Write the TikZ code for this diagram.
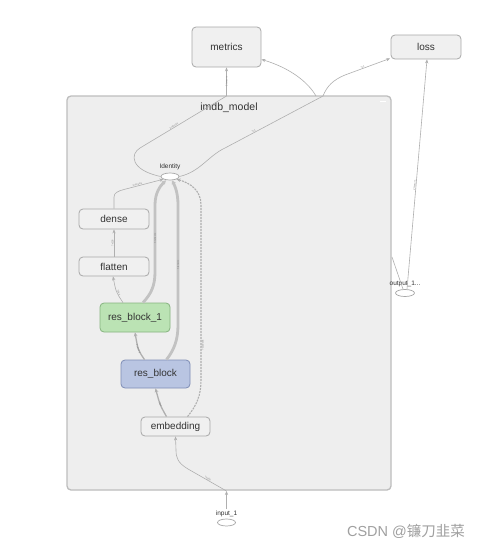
\documentclass[tikz,border=0pt]{standalone}
\usepackage{fontspec}
\setmainfont{Liberation Sans}
\newfontfamily\cjkfont{Noto Sans CJK SC}
\usetikzlibrary{arrows.meta,shapes.geometric}
\definecolor{edgec}{HTML}{AFAFAF}
\definecolor{thickc}{HTML}{C2C2C2}
\definecolor{textc}{HTML}{333333}
\definecolor{boxfill}{HTML}{EEEEEE}
\definecolor{boxdraw}{HTML}{BDBDBD}
\definecolor{nodefill}{HTML}{F0F0F0}
\definecolor{nodedraw}{HTML}{A8A8A8}
\definecolor{greenfill}{HTML}{BBE3B4}
\definecolor{greendraw}{HTML}{86B37F}
\definecolor{bluefill}{HTML}{B9C5E2}
\definecolor{bluedraw}{HTML}{7E8DB5}
\definecolor{wmark}{HTML}{A0A0A0}
\tikzset{
  opnode/.style={draw=nodedraw, fill=nodefill, rounded corners=4pt, line width=0.8pt,
    minimum width=70pt, minimum height=20pt, inner sep=0pt, text=textc,
    font=\fontsize{10}{12}\selectfont},
  ellnode/.style={ellipse, draw=nodedraw, fill=white, line width=0.7pt,
    minimum width=18pt, minimum height=7pt, inner sep=0pt},
  smalllbl/.style={text=textc, font=\fontsize{6.5}{7}\selectfont, inner sep=0pt},
  edge/.style={draw=edgec, line width=0.6pt, -{Stealth[length=4pt,width=3.2pt]}},
  plainedge/.style={draw=edgec, line width=0.6pt},
  midedge/.style={draw=edgec, line width=1.3pt, -{Stealth[length=4pt,width=3.6pt]}},
  thickedge/.style={draw=thickc, line width=2.8pt, -{Stealth[length=4pt,width=4.5pt]}},
  dashedge/.style={draw=edgec, line width=1.1pt, dash pattern=on 2pt off 1pt, -{Stealth[length=4pt,width=3.6pt]}},
  elbl/.style={sloped, text=gray, font=\fontsize{2.4}{3}\selectfont, inner sep=0.3pt}
}
\begin{document}
\begin{tikzpicture}[x=1pt,y=-1pt]
\useasboundingbox (0,0) rectangle (490,549);
\fill[white] (0,0) rectangle (490,549);

% model container
\node[draw=boxdraw, fill=boxfill, line width=1.3pt, rounded corners=4pt,
      minimum width=324pt, minimum height=394pt, inner sep=0pt] (model) at (229,293) {};
\node[text=textc, font=\fontsize{10.5}{12}\selectfont, inner sep=0pt] (title) at (229,107.5) {imdb\_model};
\draw[white, line width=1pt] (380,101) -- (386,101);

% outer nodes
\node[opnode, minimum width=69pt, minimum height=40pt] (metrics) at (226.5,47) {metrics};
\node[opnode, minimum width=70pt, minimum height=24pt] (loss) at (426,47) {loss};

% inner nodes
\node[ellnode] (id) at (170,176.5) {};
\node[smalllbl] (idl) at (170,167) {Identity};
\node[opnode] (dense) at (114,219) {dense};
\node[opnode, minimum height=19pt] (flatten) at (114,266.5) {flatten};
\node[opnode, draw=greendraw, fill=greenfill, minimum height=29pt] (rb1) at (135,317.5) {res\_block\_1};
\node[opnode, draw=bluedraw, fill=bluefill, minimum width=69pt, minimum height=28pt] (rb) at (155.5,374) {res\_block};
\node[opnode, minimum width=69pt, minimum height=19pt] (emb) at (175.5,426.5) {embedding};

% outside ellipses
\node[ellnode] (inp) at (226.5,522.5) {};
\node[smalllbl] (inpl) at (226.5,513.5) {input\_1};
\node[ellnode, minimum width=19pt] (out) at (405,293) {};
\node[smalllbl] (outl) at (405,283.5) {output\_1...};

% helper coordinates on the container border
\coordinate (mtop) at (226.5,96);
\coordinate (ltop) at (323,96);
\coordinate (mtop2) at (316,96);
\coordinate (rside) at (392,257);
\coordinate (bbot) at (226.5,491);
\coordinate (inlow) at (226.5,509);

% Identity -> metrics
\draw[plainedge] (id.west) .. controls (130,170) and (130,154) .. (140,148)
   -- node[elbl, pos=0.4, above] {2 tensors} (mtop);
\draw[edge] (mtop) -- node[elbl, pos=0.5] {2 tensors} (metrics.south);
% Identity -> loss
\draw[plainedge] (id.east) .. controls (200,172) and (208,156) .. (225,148)
   -- node[elbl, pos=0.3, above] {?x1} (ltop);
\draw[edge] (ltop) .. controls (327,86) and (333,80) .. (345,75)
   -- node[elbl, pos=0.4, above] {?x1} ([xshift=-0.5pt,yshift=1pt]loss.south west);
% branch to metrics
\draw[edge] (mtop2) .. controls (308,82) and (290,68) .. ([yshift=8pt]metrics.south east);
% output_1 -> loss
\draw[edge] ([xshift=2pt]out.north) -- node[elbl, pos=0.45, above] {2 tensors} ([xshift=1pt]loss.south);
\draw[plainedge] (rside) -- ([xshift=-2pt]out.north);

% dense -> Identity
\draw[edge] (dense.north) -- (114,197) .. controls (114,193) and (118,191) .. (124,189.5)
   -- node[elbl, pos=0.35, above] {2 tensors} (id.south west);
% flatten -> dense
\draw[edge] (flatten.north) -- node[elbl, above, pos=0.5] {?x128} (dense.south);
% res_block_1 -> flatten
\draw[edge] ([xshift=-12pt]rb1.north) .. controls (116,292) .. node[elbl, above, pos=0.4] {?x64} ([xshift=-1pt]flatten.south);
% res_block_1 -> Identity (thick)
\draw[thickedge] ([xshift=8pt]rb1.north) .. controls (151,294) and (155,286) .. (155,272)
   -- node[elbl, pos=0.5] {3 tensors} (155,205) .. controls (155,193) and (160,186) .. ([xshift=-4pt]id.south);
% res_block -> res_block_1
\draw[midedge] ([xshift=-11pt]rb.north) .. controls (138,350) .. node[elbl, pos=0.5] {3 tensors} (rb1.south);
% res_block -> Identity (thick)
\draw[thickedge] ([xshift=11pt]rb.north) .. controls (174,350) and (178,340) .. (178,325)
   -- node[elbl, pos=0.5] {3 tensors} (178,205) .. controls (178,193) and (175,186) .. ([xshift=2pt]id.south);
% embedding -> res_block
\draw[midedge] ([xshift=-9pt]emb.north) .. controls (160,405) .. node[elbl, pos=0.5] {?x64} (rb.south);
% embedding -> Identity (dashed)
\draw[dashedge] ([xshift=12pt]emb.north) .. controls (197,405) and (201,395) .. (201,380)
   -- node[elbl, pos=0.2, below] {?x500x64} (201,205) .. controls (201,190) and (190,183) .. (id.south east);
% input_1 -> embedding
\draw[edge] (inlow) -- (bbot);
\draw[edge] (bbot) -- node[elbl, pos=0.5, above] {?x500} (188,469) .. controls (178,463) and (176,458) .. (176,450) -- (emb.south);

% watermark
\node[text=wmark, font=\fontsize{14.5}{16}\selectfont, inner sep=0pt] (wm) at (406,531) {CSDN @{\cjkfont 镰刀韭菜}};
\end{tikzpicture}
\end{document}
